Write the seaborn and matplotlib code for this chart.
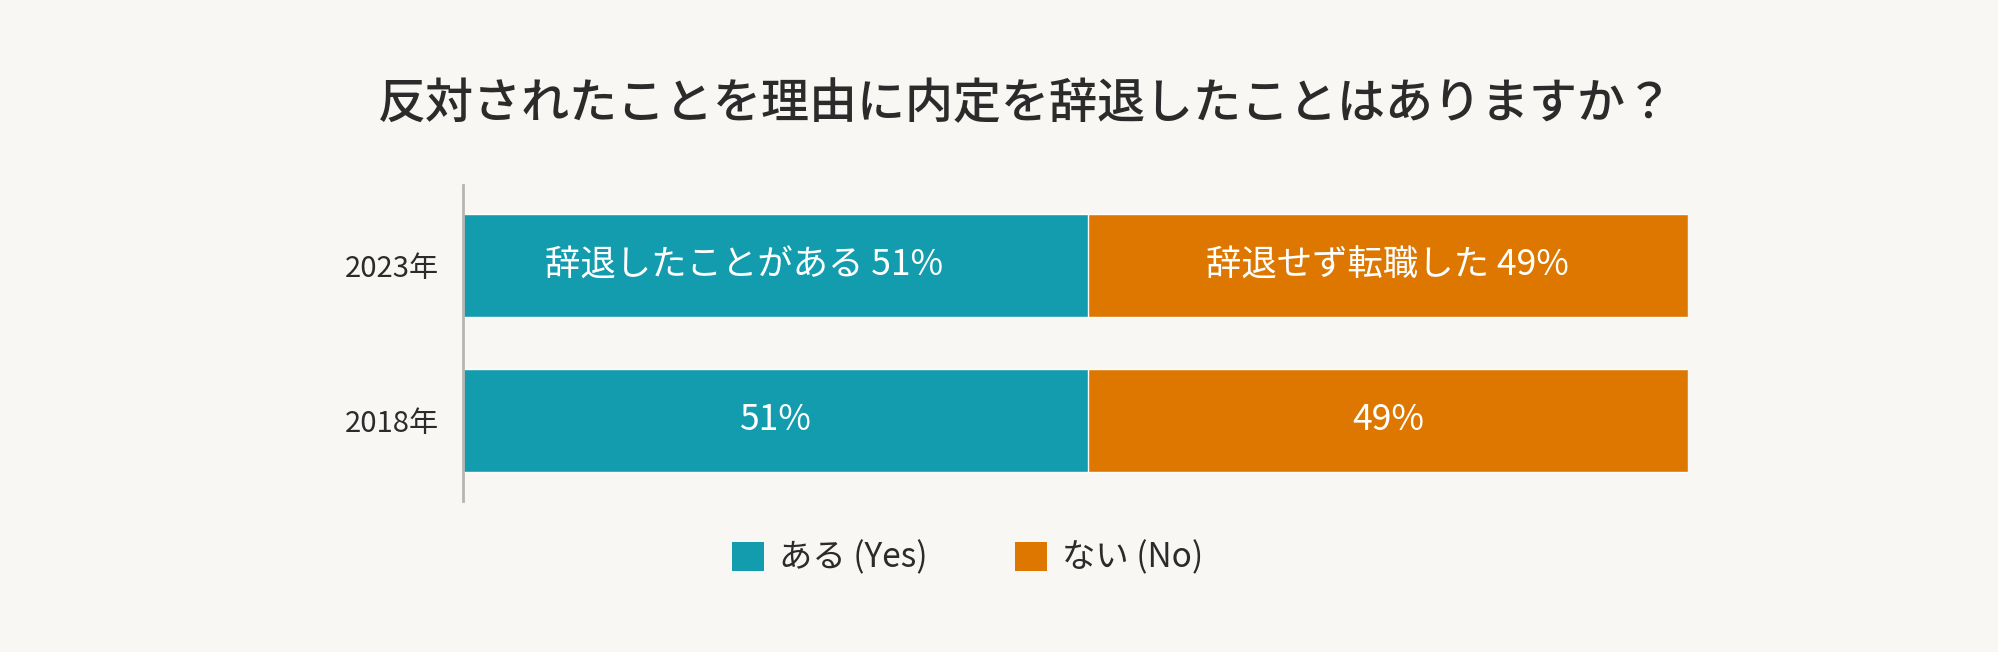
import pandas as pd
import matplotlib
matplotlib.use("Agg")
import matplotlib.pyplot as plt
from matplotlib.patches import Patch
import seaborn as sns

# Data
years = ["2023年", "2018年"]
yes_pct = [51, 51]
no_pct = [49, 49]
yes_labels = ["辞退したことがある 51%", "51%"]
no_labels = ["辞退せず転職した 49%", "49%"]
legend_labels = ["ある (Yes)", "ない (No)"]
title = "反対されたことを理由に内定を辞退したことはありますか？"

teal = "#129CAD"
orange = "#DD7700"
bg = "#F8F7F3"
dark = "#2B2B2B"

sns.set_theme(style="white")
plt.rcParams["font.family"] = ["Noto Sans CJK JP", "DejaVu Sans"]

df = pd.DataFrame({"year": years, "yes": yes_pct, "no": no_pct})
df["total"] = df["yes"] + df["no"]

fig = plt.figure(figsize=(19.99, 6.52), dpi=100, facecolor=bg)
ax = fig.add_axes([0.2316, 0.2316, 0.6128, 0.4847])
ax.set_facecolor(bg)

# stacked bars: full total in orange, then the yes part on top
sns.barplot(data=df, x="total", y="year", orient="h", color=orange,
            width=0.67, saturation=1, ax=ax)
sns.barplot(data=df, x="yes", y="year", orient="h", color=teal,
            width=0.67, saturation=1, ax=ax)

ax.set_xlim(0, 100)
ax.set_ylim(1.52, -0.52)
ax.set_xlabel("")
ax.set_ylabel("")
ax.set_xticks([])
ax.tick_params(axis="y", length=0, pad=17)
for lab in ax.get_yticklabels():
    lab.set_fontsize(21)
    lab.set_color(dark)

for s in ["top", "right", "bottom"]:
    ax.spines[s].set_visible(False)
ax.spines["left"].set_color("#B5B5B5")
ax.spines["left"].set_linewidth(2)

for i, row in df.iterrows():
    # the long 2023 label sits a bit left of the segment centre
    x_yes = row["yes"] * (0.45 if i == 0 else 0.5)
    ax.text(x_yes, i, yes_labels[i], ha="center", va="center",
            color="white", fontsize=25.5)
    ax.text(row["yes"] + row["no"] / 2, i, no_labels[i], ha="center",
            va="center", color="white", fontsize=25.5)

fig.text(0.513, 0.84, title, ha="center", va="center", fontsize=34.6,
         color=dark, fontweight="medium")

handles = [Patch(facecolor=teal, edgecolor="none"),
           Patch(facecolor=orange, edgecolor="none")]
fig.legend(handles, legend_labels, loc="center", bbox_to_anchor=(0.484, 0.144),
           ncol=2, frameon=False, fontsize=24, handlelength=0.96,
           handleheight=0.96, handletextpad=0.45, columnspacing=2.6,
           labelcolor=dark)

fig.savefig("out.png", dpi=100, facecolor=bg)
